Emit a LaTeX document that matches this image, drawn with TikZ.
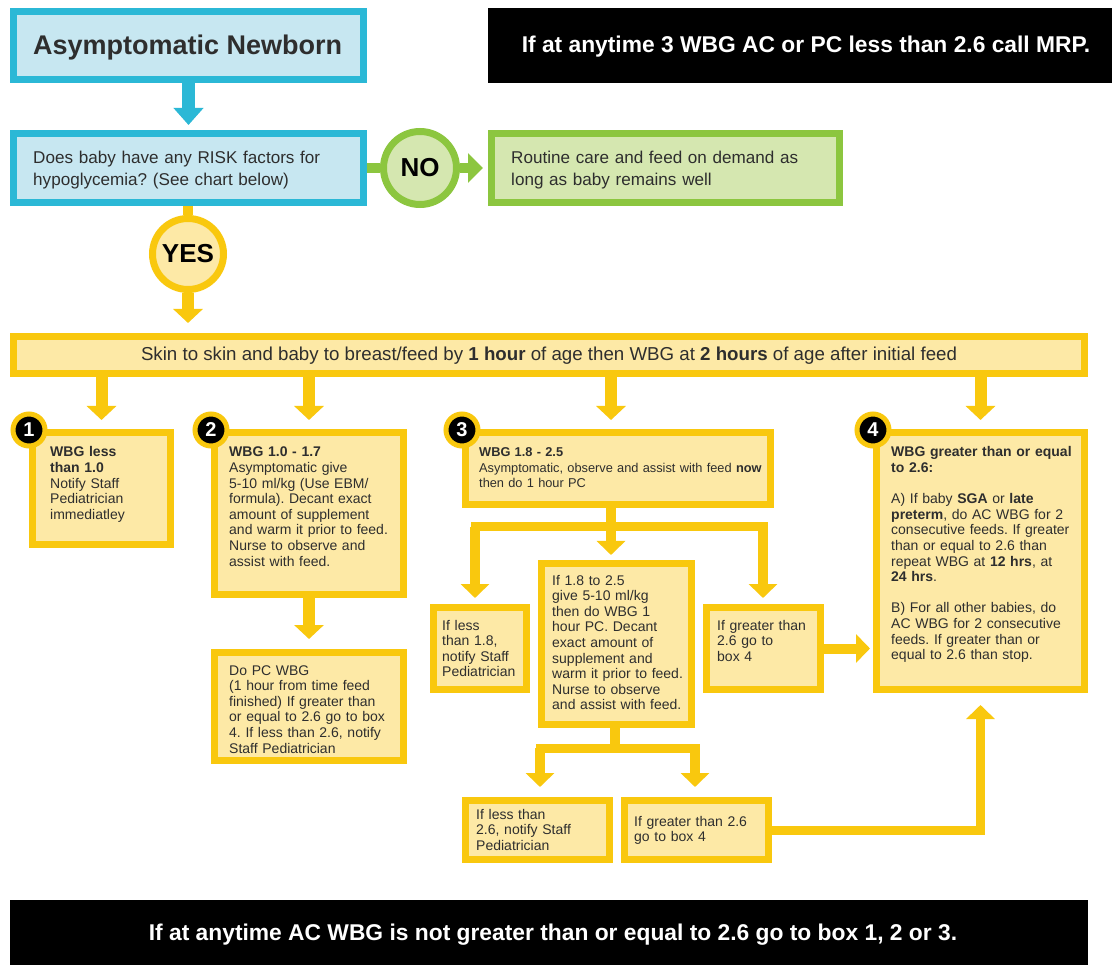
\documentclass[tikz,border=0pt]{standalone}
\usepackage{fontspec}
\setmainfont{Liberation Sans}
\usetikzlibrary{arrows.meta,calc}
\frenchspacing
\definecolor{cyanB}{HTML}{2BB8D6}
\definecolor{cyanF}{HTML}{C7E7F1}
\definecolor{greenB}{HTML}{8CC63F}
\definecolor{greenF}{HTML}{D5E7B0}
\definecolor{yelB}{HTML}{F9C80E}
\definecolor{yelF}{HTML}{FDE9A6}
\definecolor{txtc}{HTML}{2E2E2E}
\begin{document}
\frenchspacing
\begin{tikzpicture}[x=1pt,y=-1pt,
  cbox/.style={rectangle, draw=cyanB, fill=cyanF, line width=7pt, inner sep=0pt},
  gbox/.style={rectangle, draw=greenB, fill=greenF, line width=7pt, inner sep=0pt},
  ybox/.style={rectangle, draw=yelB, fill=yelF, line width=7pt, inner sep=0pt},
  kbox/.style={rectangle, fill=black, inner sep=0pt},
  tx/.style={anchor=base west, inner sep=0pt, align=left, text=txtc, font=\fontsize{14}{15.6}\selectfont},
  txs/.style={tx, font=\fontsize{12.8}{15.5}\selectfont},
  txl/.style={anchor=base west, inner sep=0pt, align=left, text=txtc, font=\fontsize{17.1}{22}\selectfont},
  ktx/.style={anchor=base, inner sep=0pt, text=white, font=\fontsize{22.8}{22.8}\selectfont\bfseries},
  carr/.style={draw=cyanB, line width=13pt, -{Triangle[width=29pt,length=17pt]}},
  gline/.style={draw=greenB, line width=10pt},
  garr/.style={draw=greenB, line width=10pt, -{Triangle[width=29pt,length=15pt]}},
  yarr/.style={draw=yelB, line width=12pt, -{Triangle[width=29pt,length=14pt]}},
  ybarr/.style={draw=yelB, line width=10pt, -{Triangle[width=28pt,length=14pt]}},
  yline/.style={draw=yelB, line width=10pt},
  hline/.style={draw=yelB, line width=9pt, line cap=rect},
  badge/.style={circle, fill=black, draw=yelB, line width=5pt, minimum size=32pt, inner sep=0pt, text=white, font=\fontsize{20}{20}\selectfont\bfseries},
  ycirc/.style={circle, draw=yelB, fill=yelF, line width=7pt, minimum size=71pt, inner sep=0pt, text=black, font=\fontsize{26}{26}\selectfont\bfseries},
  gcirc/.style={circle, draw=greenB, fill=greenF, line width=7pt, minimum size=73pt, inner sep=0pt, text=black, font=\fontsize{26}{26}\selectfont\bfseries}
]
\useasboundingbox (0,0) rectangle (1112,965);
\fill[white] (0,0) rectangle (1112,965);

% top row
\node[cbox, minimum width=350pt, minimum height=68pt] (newborn) at (188.5,45.5) {};
\node[anchor=base west, inner sep=0pt, text=txtc, font=\fontsize{27}{27}\selectfont\bfseries] (newbornT) at (33,55) {Asymptomatic Newborn};
\node[kbox, minimum width=624pt, minimum height=75pt] (topnote) at (800,45.5) {};
\node[ktx] (topnoteT) at (806,53) {If at anytime 3 WBG AC or PC less than 2.6 call MRP.};

\node[cbox, minimum width=350pt, minimum height=69pt] (question) at (188.5,168) {};
\node[txl, text width=330pt] (questionT) at (33,164) {Does baby have any RISK factors for\\hypoglycemia? (See chart below)};
\node[gbox, minimum width=348pt, minimum height=69pt] (routine) at (665.5,168) {};
\node[txl, text width=330pt] (routineT) at (511,164) {Routine care and feed on demand as\\long as baby remains well};

\node[gcirc] (no) at (420,168) {NO};
\node[ycirc] (yes) at (188,254) {YES};

\draw[carr, shorten >=5pt] (newborn.south) -- (question.north);
\draw[gline] (question.east) -- (no.west);
\draw[garr, shorten >=5pt] (no.east) -- (routine.west);
\draw[yline] (question.south -| yes) -- (yes.north);

% band
\node[ybox, minimum width=1071pt, minimum height=37pt] (band) at (549,355) {};
\node[anchor=base, inner sep=0pt, text=txtc, font=\fontsize{18.7}{18.7}\selectfont] (bandT) at (549,361) {Skin to skin and baby to breast/feed by \textbf{1 hour} of age then WBG at \textbf{2 hours} of age after initial feed};
\draw[yarr, shorten >=10pt] (yes.south) -- (band.north -| yes);

% boxes
\node[ybox, minimum width=138pt, minimum height=112pt] (b1) at (101.5,488.5) {};
\node[ybox, minimum width=189pt, minimum height=162pt] (b2) at (309,513.5) {};
\node[ybox, minimum width=189pt, minimum height=108pt] (b2b) at (309,706.5) {};
\node[ybox, minimum width=305pt, minimum height=72pt] (b3) at (618,468.5) {};
\node[ybox, minimum width=93pt, minimum height=82pt] (b3a) at (480,648.5) {};
\node[ybox, minimum width=150pt, minimum height=161pt] (b3b) at (616.5,644) {};
\node[ybox, minimum width=114pt, minimum height=82pt] (b3c) at (763.5,648.5) {};
\node[ybox, minimum width=144pt, minimum height=59pt] (b3d) at (537.5,830) {};
\node[ybox, minimum width=144pt, minimum height=59pt] (b3e) at (696.5,830) {};
\node[ybox, minimum width=208pt, minimum height=257pt] (b4) at (980.5,561) {};

% texts
\node[tx, text width=115pt] (b1T) at (50,457) {\textbf{WBG less}\\\textbf{than 1.0}\\Notify Staff\\Pediatrician\\immediatley};
\node[tx, text width=172pt] (b2T) at (229,457) {\textbf{WBG 1.0 - 1.7}\\Asymptomatic give\\5-10 ml/kg (Use EBM/\\formula). Decant exact\\amount of supplement\\and warm it prior to feed.\\Nurse to observe and\\assist with feed.};
\node[tx, text width=172pt] (b2bT) at (229,675) {Do PC WBG\\(1 hour from time feed\\finished) If greater than\\or equal to 2.6 go to box\\4. If less than 2.6, notify\\Staff Pediatrician};
\node[txs, text width=292pt] (b3T) at (479,457) {\textbf{WBG 1.8 - 2.5}\\Asymptomatic, observe and assist with feed \textbf{now}\\then do 1 hour PC};
\node[tx, text width=85pt] (b3aT) at (442,630) {If less\\than 1.8,\\notify Staff\\Pediatrician};
\node[tx, text width=140pt] (b3bT) at (552,585) {If 1.8 to 2.5\\give 5-10 ml/kg\\then do WBG 1\\hour PC. Decant\\exact amount of\\supplement and\\warm it prior to feed.\\Nurse to observe\\and assist with feed.};
\node[tx, text width=100pt] (b3cT) at (717,630) {If greater than\\2.6 go to\\box 4};
\node[tx, text width=128pt] (b3dT) at (476,819) {If less than\\2.6, notify Staff\\Pediatrician};
\node[tx, text width=132pt] (b3eT) at (634,826) {If greater than 2.6\\go to box 4};
\node[tx, text width=192pt] (b4T) at (891,457) {\textbf{WBG greater than or equal}\\\textbf{to 2.6:}\\[15.6pt]A) If baby \textbf{SGA} or \textbf{late}\\\textbf{preterm}, do AC WBG for 2\\consecutive feeds. If greater\\than or equal to 2.6 than\\repeat WBG at \textbf{12 hrs}, at\\\textbf{24 hrs}.\\[15.6pt]B) For all other babies, do\\AC WBG for 2 consecutive\\feeds. If greater than or\\equal to 2.6 than stop.};

% connectors from band
\coordinate (c3) at (611,0);
\draw[yarr, shorten >=9pt] (band.south -| b1) -- (b1.north);
\draw[yarr, shorten >=9pt] (band.south -| b2) -- (b2.north);
\draw[yarr, shorten >=9pt] (band.south -| c3) -- (b3.north -| c3);
\draw[yarr, shorten >=9pt] (band.south -| b4) -- (b4.north);
\draw[yarr, shorten >=10pt] (b2.south) -- (b2b.north);

% box 3 branches
\coordinate (j3) at (611,527);
\coordinate (j3l) at (475,527);
\coordinate (j3r) at (763,527);
\draw[hline] (j3l) -- (j3r);
\draw[ybarr, shorten >=5pt] (b3.south -| j3) -- (b3b.north -| j3);
\draw[ybarr, shorten >=6pt] (j3l) -- (b3a.north -| j3l);
\draw[ybarr, shorten >=6pt] (j3r) -- (b3c.north -| j3r);
\draw[ybarr, shorten >=3pt] (b3c.east) -- (b3c.east -| b4.west);

% box 3b branches
\coordinate (k3) at (615,748);
\coordinate (k3l) at (540,748);
\coordinate (k3r) at (695,748);
\draw[yline] (b3b.south -| k3) -- (k3);
\draw[hline] (k3l) -- (k3r);
\draw[ybarr, shorten >=10pt] (k3l) -- (b3d.north -| k3l);
\draw[ybarr, shorten >=10pt] (k3r) -- (b3e.north -| k3r);
\draw[ybarr, line width=9pt, shorten >=12pt] (b3e.east) -| (b4.south);

% badges
\node[badge] (n1) at (29,430) {1};
\node[badge] (n2) at (211,430) {2};
\node[badge] (n3) at (462,430) {3};
\node[badge] (n4) at (873,430) {4};

% bottom note
\node[kbox, minimum width=1078pt, minimum height=65pt] (bottomnote) at (549,932.5) {};
\node[ktx] (bottomnoteT) at (553,940) {If at anytime AC WBG is not greater than or equal to 2.6 go to box 1, 2 or 3.};
\end{tikzpicture}
\end{document}
